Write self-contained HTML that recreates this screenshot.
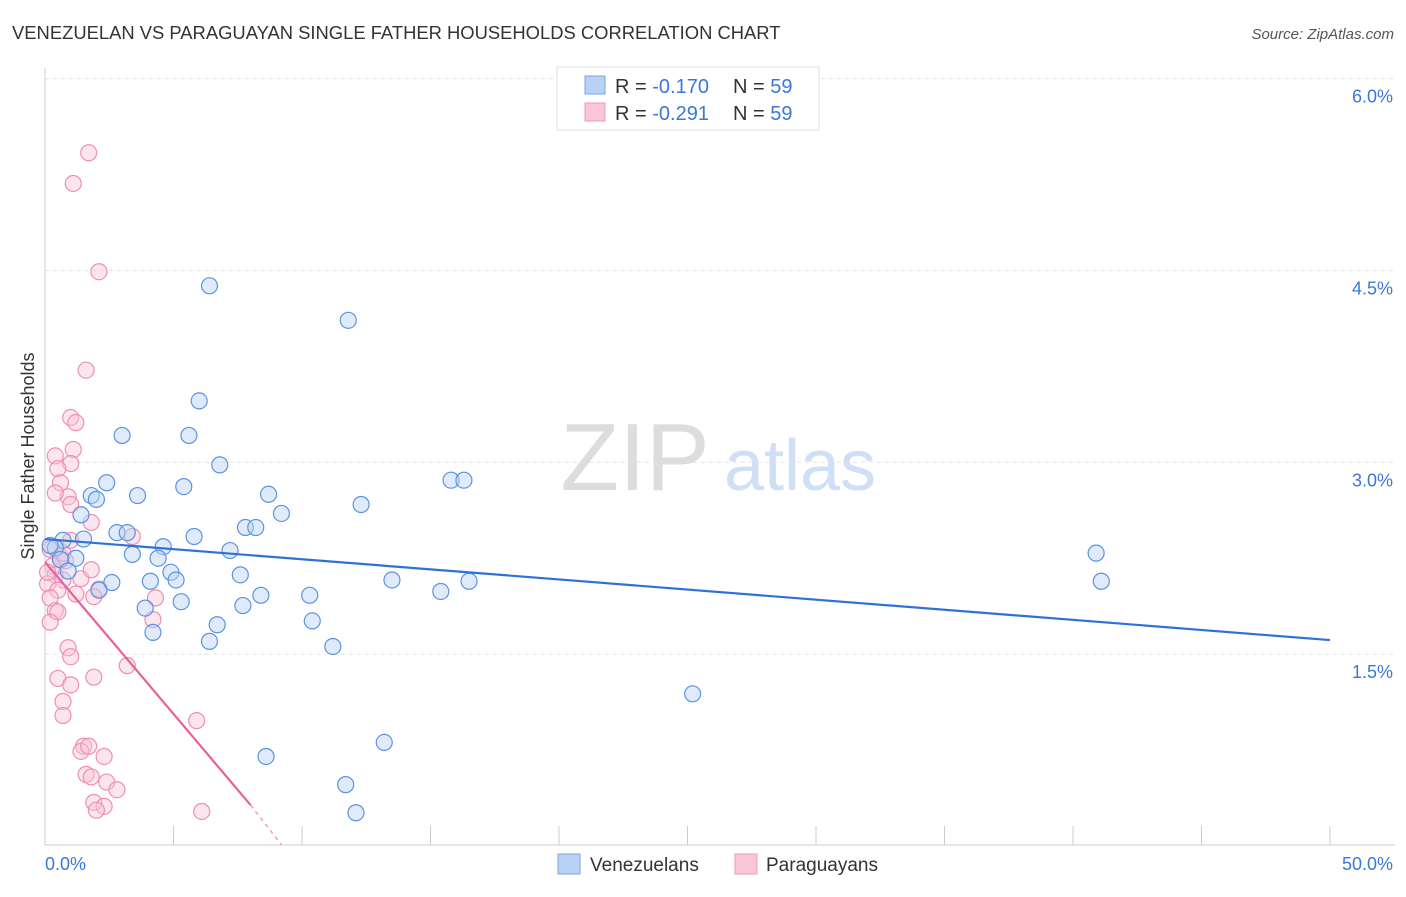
<!DOCTYPE html>
<html><head><meta charset="utf-8"><style>
body{margin:0;background:#fff;font-family:"Liberation Sans",sans-serif;}
svg text{font-family:"Liberation Sans",sans-serif;}
</style></head><body>
<svg id="chart" width="1406" height="892" xmlns="http://www.w3.org/2000/svg">
<text x="12" y="39" font-size="18.4" fill="#333">VENEZUELAN VS PARAGUAYAN SINGLE FATHER HOUSEHOLDS CORRELATION CHART</text>
<text x="1394" y="39" font-size="15" fill="#555" text-anchor="end" font-style="italic">Source: ZipAtlas.com</text>
<g>
<text x="635" y="490" font-size="96" fill="#ddd" font-family="Liberation Serif" text-anchor="middle">ZIP</text>
<text x="800" y="490" font-size="72" fill="#cfdff5" text-anchor="middle">atlas</text>
</g>
<g id="grid"></g>
<g id="axes"></g>
<text transform="translate(34,456) rotate(-90)" font-size="18" fill="#333" text-anchor="middle">Single Father Households</text>
<g id="marks"></g>
<g>
<rect x="557" y="67" width="262" height="63" fill="#fff" stroke="#ddd"/>
<rect x="585" y="76" width="20" height="18" fill="#b8d2f5" stroke="#7aa6e0"/>
<rect x="585" y="103" width="20" height="18" fill="#f9c6d6" stroke="#f096b4"/>
<text x="615" y="93" font-size="20" fill="#333">R = <tspan fill="#3a78d8">-0.170</tspan></text>
<text x="733" y="93" font-size="20" fill="#333">N = <tspan fill="#3a78d8">59</tspan></text>
<text x="615" y="120" font-size="20" fill="#333">R = <tspan fill="#3a78d8">-0.291</tspan></text>
<text x="733" y="120" font-size="20" fill="#333">N = <tspan fill="#3a78d8">59</tspan></text>
</g>
<g>
<rect x="558" y="854" width="22" height="20" fill="#b8d2f5" stroke="#7aa6e0"/>
<text x="590" y="871" font-size="19" fill="#333">Venezuelans</text>
<rect x="735" y="854" width="22" height="20" fill="#f9c6d6" stroke="#f096b4"/>
<text x="766" y="871" font-size="19" fill="#333">Paraguayans</text>
</g>
</svg>
<script>
const yTicks=[1.5,3.0,4.5,6.0];
const yTickLabels=["1.5%","3.0%","4.5%","6.0%"];
const xTickLabels=["0.0%","50.0%"];
const venX=[6.4,11.8,6.0,3.0,5.6,6.8,2.4,1.8,2.0,3.6,5.4,8.7,12.3,15.8,16.3,1.4,9.2,2.8,3.2,7.8,8.2,1.5,5.8,0.7,0.4,4.6,7.2,3.4,4.4,1.2,0.6,0.9,4.9,7.6,5.1,4.1,2.6,13.5,16.5,2.1,15.4,8.4,10.3,5.3,7.7,3.9,10.4,6.7,4.2,6.4,11.2,40.9,41.1,25.2,13.2,8.6,11.7,12.1,0.2];
const venY=[4.38,4.11,3.48,3.21,3.21,2.98,2.84,2.74,2.71,2.74,2.81,2.75,2.67,2.86,2.86,2.59,2.60,2.45,2.45,2.49,2.49,2.40,2.42,2.39,2.33,2.34,2.31,2.28,2.25,2.25,2.24,2.15,2.14,2.12,2.08,2.07,2.06,2.08,2.07,2.00,1.99,1.96,1.96,1.91,1.88,1.86,1.76,1.73,1.67,1.60,1.56,2.29,2.07,1.19,0.81,0.70,0.48,0.26,2.35];
const parX=[1.7,1.1,2.1,1.6,1.0,1.2,1.1,0.4,1.0,0.5,0.6,0.9,0.4,1.0,1.8,3.4,0.2,0.6,0.8,0.3,0.4,0.7,0.1,2.1,0.5,1.9,1.2,0.2,0.4,0.5,4.3,4.2,0.2,0.9,1.0,3.2,1.9,0.5,1.0,0.7,0.7,5.9,1.5,1.4,1.7,2.3,1.6,1.8,2.4,2.8,1.9,2.3,2.0,6.1,0.7,0.1,1.4,1.8,1.0];
const parY=[5.42,5.18,4.49,3.72,3.35,3.31,3.10,3.05,2.99,2.95,2.84,2.73,2.76,2.67,2.53,2.42,2.32,2.26,2.23,2.19,2.12,2.08,2.05,2.01,2.00,1.95,1.97,1.94,1.84,1.83,1.94,1.77,1.75,1.55,1.48,1.41,1.32,1.31,1.26,1.13,1.02,0.98,0.78,0.74,0.78,0.70,0.56,0.54,0.50,0.44,0.34,0.31,0.28,0.27,2.29,2.14,2.09,2.16,2.39];
const venTrend=[[0,2.40],[50,1.61]];
const parTrend=[[0,2.22],[8.0,0.32],[9.2,0.01]];
const X=v=>45+v*25.7, Y=v=>846-v*127.9;
const NS="http://www.w3.org/2000/svg";
function mk(p,t,a){const e=document.createElementNS(NS,t);for(const k in a)e.setAttribute(k,a[k]);p.appendChild(e);return e;}
const grid=document.getElementById('grid'),axes=document.getElementById('axes'),marks=document.getElementById('marks');
yTicks.forEach((t,i)=>{
 const l=mk(grid,'line',{x1:45,x2:1395,y1:Y(t),y2:Y(t),stroke:'#e3e3e3','stroke-dasharray':'4,4'});
 
 
 const tx=mk(axes,'text',{x:1393,y:Y(t)+24,'font-size':18,fill:'#3a78d8','text-anchor':'end'});tx.textContent=yTickLabels[i];
 
 
});
const ax=mk(axes,'line',{x1:45,x2:1395,y1:845,y2:845,stroke:'#ccc'});


const ay=mk(axes,'line',{x1:45,x2:45,y1:68,y2:845,stroke:'#ccc'});


for(let i=0;i<=10;i++){const t=mk(axes,'line',{x1:X(i*5),x2:X(i*5),y1:826,y2:845,stroke:'#ccc'});
 
 }
[[0,'start',45],[1,'end',1393]].forEach(([i,a,x])=>{const t=mk(axes,'text',{x:x,y:870,'font-size':18,fill:'#3a78d8','text-anchor':a});t.textContent=xTickLabels[i];
 
 });
function pts(xs,ys,fill,stroke,name){xs.forEach((x,i)=>{const c=mk(marks,'circle',{cx:X(x),cy:Y(ys[i]),r:8,fill:fill,'fill-opacity':0.45,stroke:stroke,'stroke-width':1.2});
 
 });}
pts(parX,parY,'#f9c6d6','#ef8fb0','paraguayan-point');
pts(venX,venY,'#b8d2f5','#5b93e0','venezuelan-point');
const vt=mk(marks,'line',{x1:X(venTrend[0][0]),y1:Y(venTrend[0][1]),x2:X(venTrend[1][0]),y2:Y(venTrend[1][1]),stroke:'#2f72d6','stroke-width':2.2});


const pt=mk(marks,'line',{x1:X(parTrend[0][0]),y1:Y(parTrend[0][1]),x2:X(parTrend[1][0]),y2:Y(parTrend[1][1]),stroke:'#e8609a','stroke-width':2.2});


const pd=mk(marks,'line',{x1:X(parTrend[1][0]),y1:Y(parTrend[1][1]),x2:X(parTrend[2][0]),y2:Y(parTrend[2][1]),stroke:'#f0a0c0','stroke-width':1.5,'stroke-dasharray':'4,4'});


</script>
</body></html>
